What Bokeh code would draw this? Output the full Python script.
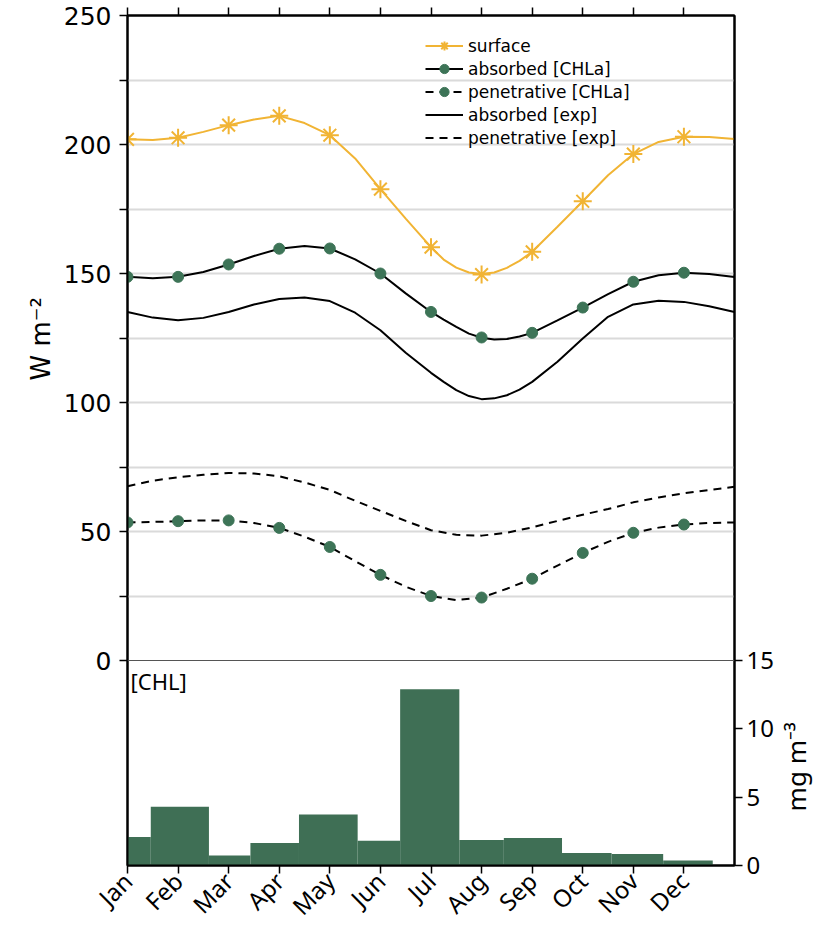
import math
from bokeh.plotting import figure
from bokeh.models import (Range1d, LinearAxis, FixedTicker, Legend, LegendItem,
                          Label, Span, Title)
from bokeh.embed import file_html
from bokeh.resources import INLINE

# ---------------- data ----------------
months = [1, 2, 3, 4, 5, 6, 7, 8, 9, 10, 11, 12]
month_labels = ["Jan", "Feb", "Mar", "Apr", "May", "Jun",
                "Jul", "Aug", "Sep", "Oct", "Nov", "Dec"]

surface_pts = [202.0, 202.6, 207.5, 211.1, 203.6, 182.7,
               160.2, 149.6, 158.4, 178.0, 196.3, 203.0]
absorbed_chla_pts = [148.7, 148.7, 153.5, 159.6, 159.7, 150.0,
                     135.1, 125.2, 127.0, 136.8, 146.8, 150.3]
penetr_chla_pts = [53.5, 54.0, 54.3, 51.4, 44.0, 33.2,
                   25.0, 24.4, 31.7, 41.7, 49.5, 52.7]

# upper curves (finer steps around the summer minimum)
t_upper = [1, 1.5, 2, 2.5, 3, 3.5, 4, 4.5, 5, 5.5, 6, 6.5, 7,
           7.25, 7.5, 7.75, 8, 8.25, 8.5, 8.75, 9,
           9.5, 10, 10.5, 11, 11.5, 12, 12.5, 13]
surface_curve = [202.0, 201.7, 202.6, 204.9, 207.5, 209.7, 211.1, 208.3, 203.6,
                 194.6, 182.7, 171.3, 160.2,
                 155.4, 152.3, 150.4, 149.8, 150.4, 152.2, 154.9, 158.4,
                 168.1, 178.0, 188.1, 196.3, 201.0, 203.0, 202.9, 202.1]
absorbed_chla_curve = [148.7, 148.2, 148.7, 150.6, 153.5, 156.8, 159.6, 160.7, 159.7,
                       155.5, 150.0, 142.3, 135.1,
                       132.1, 129.3, 126.7, 125.1, 124.4, 124.6, 125.6, 127.0,
                       131.8, 136.8, 142.0, 146.8, 149.3, 150.3, 149.8, 148.6]
absorbed_exp_curve = [135.1, 132.9, 131.9, 132.8, 135.1, 138.0, 140.1, 140.7, 139.3,
                      134.8, 128.0, 119.3, 111.5,
                      108.0, 104.8, 102.5, 101.3, 101.6, 102.8, 105.0, 108.0,
                      115.8, 124.8, 133.2, 138.0, 139.4, 139.0, 137.3, 135.1]

# lower curves read at half-month steps (Jan .. Jan of next year)
t_half = [1, 1.5, 2, 2.5, 3, 3.5, 4, 4.5, 5, 5.5, 6, 6.5, 7,
          7.5, 8, 8.5, 9, 9.5, 10, 10.5, 11, 11.5, 12, 12.5, 13]
penetr_chla_curve = [53.5, 53.7, 54.0, 54.3, 54.3, 53.3, 51.4, 48.0, 44.0,
                     38.5, 33.2, 28.6, 25.0, 23.4, 24.4, 27.8, 31.7, 36.8,
                     41.7, 46.0, 49.5, 51.5, 52.7, 53.3, 53.5]
penetr_exp_curve = [67.5, 69.7, 71.0, 72.0, 72.7, 72.5, 71.4, 69.0, 66.1,
                    61.9, 58.0, 54.1, 50.5, 48.7, 48.4, 49.5, 51.6, 54.1,
                    56.5, 58.7, 61.3, 63.2, 64.8, 66.1, 67.3]

# chlorophyll bars (bin edges in month units, values in mg m^-3)
chl_edges = [0.55, 1.46, 2.61, 3.43, 4.39, 5.55, 6.39,
             7.56, 8.44, 9.59, 10.57, 11.59, 12.57]
chl_values = [2.09, 4.30, 0.73, 1.65, 3.74, 1.82,
              12.89, 1.87, 2.01, 0.92, 0.85, 0.36]

y_major = [0, 50, 100, 150, 200, 250]
y_minor = [25, 75, 125, 175, 225]
y_grid = [25, 50, 75, 100, 125, 150, 175, 200, 225]
chl_ticks = [0, 5, 10, 15]

# ---------------- styles ----------------
ORANGE = "#F1B434"
GREEN = "#3D7457"
BAR = "#3F6F55"
DASH = "8 6"
FONT_L = "DejaVu Sans"
FONT_B = "Noto Sans"

# frame: 850 px tall; upper panel (0..250 W m-2) takes 645 px, lower panel
# (0..15 mg m-3) takes 205 px
W_MIN = -250 * 205 / 645
CHL_MAX = 15 * 850 / 205

p = figure(width=834, height=936, x_range=Range1d(1, 13),
           y_range=Range1d(W_MIN, 250),
           output_backend="svg", toolbar_location=None,
           min_border_left=127, min_border_right=98, min_border_top=15,
           min_border_bottom=71)
p.extra_y_ranges = {"chl": Range1d(0, CHL_MAX)}
p.outline_line_color = "black"
p.outline_line_width = 2
p.background_fill_color = "white"
p.xgrid.visible = False
p.ygrid.ticker = FixedTicker(ticks=y_grid)
p.ygrid.grid_line_color = "#dadada"
p.ygrid.grid_line_width = 2

# left axis (W m-2)
ya = p.yaxis[0]
ya.ticker = FixedTicker(ticks=y_major, minor_ticks=y_minor)
ya.axis_line_width = 2
ya.axis_line_color = "black"
ya.major_tick_out = 8
ya.major_tick_in = 0
ya.minor_tick_out = 8
ya.minor_tick_in = 0
ya.major_tick_line_width = 1.5
ya.minor_tick_line_width = 1.5
ya.major_label_text_font = FONT_L
ya.major_label_text_font_size = "25px"
ya.major_label_text_color = "black"
ya.major_label_standoff = 8

# left title centred on the upper panel
p.add_layout(Title(text="W m\u207b\u00b2", align="left", offset=485,
                   text_font=FONT_L, text_font_size="26px",
                   text_font_style="normal", text_color="black",
                   standoff=10), "left")

# bottom axis (months)
xa = p.xaxis[0]
xa.ticker = FixedTicker(ticks=months)
xa.major_label_overrides = {m: lab for m, lab in zip(months, month_labels)}
xa.major_label_orientation = math.pi / 4
xa.axis_line_width = 2
xa.major_tick_out = 8
xa.major_tick_in = 0
xa.major_tick_line_width = 1.5
xa.minor_tick_line_color = None
xa.major_label_text_font = FONT_B
xa.major_label_text_font_size = "24px"
xa.major_label_text_color = "black"
xa.major_label_standoff = 3

# top axis: ticks only
top_axis = LinearAxis(ticker=FixedTicker(ticks=months))
top_axis.axis_line_width = 2
top_axis.major_tick_out = 8
top_axis.major_tick_in = 0
top_axis.major_tick_line_width = 1.5
top_axis.minor_tick_line_color = None
top_axis.major_label_text_font_size = "1px"
top_axis.major_label_text_color = None
top_axis.major_label_standoff = 0
p.add_layout(top_axis, "above")

# right axis (mg m-3)
yr = LinearAxis(y_range_name="chl", ticker=FixedTicker(ticks=chl_ticks))
yr.axis_line_width = 2
yr.major_tick_out = 8
yr.major_tick_in = 0
yr.major_tick_line_width = 1.5
yr.minor_tick_line_color = None
yr.major_label_text_font = FONT_B
yr.major_label_text_font_size = "24px"
yr.major_label_text_color = "black"
yr.major_label_standoff = 4
yr.axis_label = "\u00a0" * 8 + "mg m\u207b\u00b3"
yr.axis_label_text_font = FONT_B
yr.axis_label_text_font_size = "26px"
yr.axis_label_text_font_style = "normal"
yr.axis_label_text_color = "black"
yr.axis_label_standoff = 19
yr.axis_label_orientation = math.pi / 2
for _al in ("start", "left"):
    try:
        yr.axis_label_align = _al
        break
    except Exception:
        pass
p.add_layout(yr, "right")

# divider between the two panels
p.add_layout(Span(location=0, dimension="width", line_color="#555555",
                  line_width=1))

# bars
p.quad(left=chl_edges[:-1], right=chl_edges[1:], bottom=0, top=chl_values,
       fill_color=BAR, line_color=None, y_range_name="chl")

# curves
r_surf_l = p.line(t_upper, surface_curve, line_color=ORANGE, line_width=2)
r_surf_m = p.scatter(months, surface_pts, marker="asterisk", size=18,
                     line_color=ORANGE, line_width=2)

r_abs_l = p.line(t_upper, absorbed_chla_curve, line_color="black", line_width=2)
r_abs_m = p.scatter(months, absorbed_chla_pts, marker="circle", size=11,
                    fill_color=GREEN, line_color=GREEN)

r_pen_l = p.line(t_half, penetr_chla_curve, line_color="black", line_width=2,
                 line_dash=DASH)
r_pen_m = p.scatter(months, penetr_chla_pts, marker="circle", size=11,
                    fill_color=GREEN, line_color=GREEN)

r_absx = p.line(t_upper, absorbed_exp_curve, line_color="black", line_width=2)
r_penx = p.line(t_half, penetr_exp_curve, line_color="black", line_width=2,
                line_dash=DASH)

legend = Legend(items=[
    LegendItem(label="surface", renderers=[r_surf_l, r_surf_m]),
    LegendItem(label="absorbed [CHLa]", renderers=[r_abs_l, r_abs_m]),
    LegendItem(label="penetrative [CHLa]", renderers=[r_pen_l, r_pen_m]),
    LegendItem(label="absorbed [exp]", renderers=[r_absx]),
    LegendItem(label="penetrative [exp]", renderers=[r_penx]),
], location=(298, 716))
legend.border_line_color = None
legend.background_fill_alpha = 0
legend.padding = 0
legend.margin = 0
legend.spacing = 0
legend.glyph_width = 38
legend.glyph_height = 23
legend.label_height = 23
legend.label_standoff = 5
legend.label_text_font = FONT_L
legend.label_text_font_size = "17px"
legend.label_text_color = "black"
p.add_layout(legend)

# text inside the lower panel
p.add_layout(Label(x=1.06, y=14.6, y_range_name="chl", text="[CHL]",
                   text_font=FONT_B, text_font_size="22px", text_color="black",
                   text_baseline="top", text_align="left"))

open("out.html", "w").write(file_html(p, INLINE))
